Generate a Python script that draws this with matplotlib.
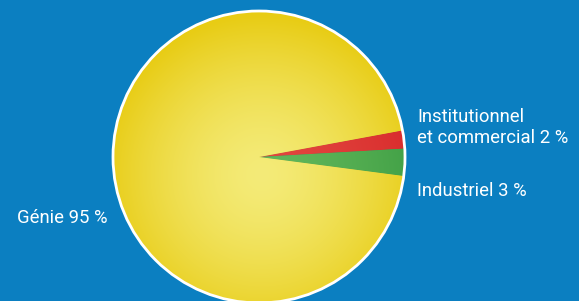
import matplotlib.pyplot as plt
import numpy as np
from matplotlib.colors import to_rgb
from matplotlib.patches import Circle

# data
labels = ['Institutionnel\net commercial 2 %', 'Industriel 3 %', 'Génie 95 %']
values = [2, 3, 95]
edge_cols = ['#d82a2c', '#3f9f45', '#e8cc14']
mid_cols = ['#e2473f', '#62b75a', '#f4eb78']

bg = '#0b7fc1'
W, H = 579, 301
cx, cy, r = 259, 301 - 157, 146

fig = plt.figure(figsize=(W / 100, H / 100), dpi=100)
fig.patch.set_facecolor(bg)
ax = fig.add_axes([0, 0, 1, 1])
ax.set_facecolor(bg)

wedges, _ = ax.pie(values, colors=edge_cols, startangle=10.5, counterclock=False,
                   center=(cx, cy), radius=r, wedgeprops=dict(linewidth=0))

# radial shading inside each slice
n = 300
xs = np.linspace(cx - r, cx + r, n)
ys = np.linspace(cy - r, cy + r, n)
X, Y = np.meshgrid(xs, ys)
gx, gy = cx + 3, cy - 18
d = np.sqrt((X - gx) ** 2 + (Y - gy) ** 2) / r
t = np.clip(d / 1.1, 0, 1) ** 1.5
for w, c_edge, c_mid in zip(wedges, edge_cols, mid_cols):
    e = np.array(to_rgb(c_edge))
    m = np.array(to_rgb(c_mid))
    img = m[None, None, :] * (1 - t[..., None]) + e[None, None, :] * t[..., None]
    im = ax.imshow(img, extent=(cx - r, cx + r, cy - r, cy + r), origin='lower',
                   zorder=2, interpolation='bilinear')
    im.set_clip_path(w)

ax.add_patch(Circle((cx, cy), r, fill=False, ec='white', lw=2, zorder=3))

font = ['Roboto', 'DejaVu Sans']
ax.text(417, 301 - 143, labels[0], color='white', fontsize=13.3, family=font,
        ha='left', va='baseline', linespacing=1.22)
ax.text(417, 301 - 196, labels[1], color='white', fontsize=13.3, family=font,
        ha='left', va='baseline')
ax.text(17, 301 - 223, labels[2], color='white', fontsize=13.3, family=font,
        ha='left', va='baseline')

ax.set_xlim(0, W)
ax.set_ylim(0, H)
ax.set_aspect('auto')
ax.axis('off')

fig.savefig('out.png', dpi=100, facecolor=bg)
